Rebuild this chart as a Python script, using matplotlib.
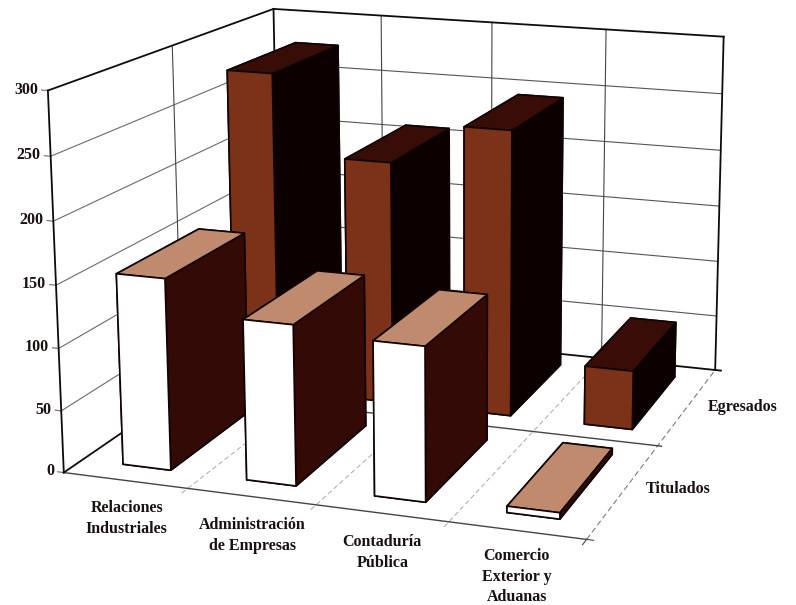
import matplotlib
matplotlib.use('Agg')
import matplotlib.pyplot as plt
from mpl_toolkits.mplot3d import proj3d
import numpy as np

plt.rcParams['font.family'] = ['Liberation Serif', 'DejaVu Serif']

categorias = ['Relaciones\nIndustriales', 'Administración\nde Empresas', 'Contaduría\nPública', 'Comercio\nExterior y\nAduanas']
series = ['Titulados', 'Egresados']
titulados = [154, 128, 122, 5]
egresados = [276, 208, 243, 50]
z_ticks = [0, 50, 100, 150, 200, 250, 300]

BAR_X = 0.33
BAR_W = 0.39
BAR_Y = 0.15
BAR_D = 0.70
NEGRO = '#120a08'
GRIS = '#6a6a6a'
TEXTO = '#1a1010'

# camara ajustada a las esquinas del marco
ELEV, AZIM, ROLL, FOCAL = 12.4929, -73.60162, -0.68085, 0.17104
CAJA = np.array([0.48769, 0.4661, 0.34839])
CENTRO = (3.9168, 0.07303, 293.15467)
PX, PY = 553.04437, 168.15972
S = 2400.0

fig = plt.figure(figsize=(7.96, 6.05), dpi=100)
ax = fig.add_axes([(PX - S / 2) / 796, (605 - PY - S / 2) / 605, S / 796, S / 605],
                  projection='3d', computed_zorder=False)
ax.set_xlim(CENTRO[0] - 4, CENTRO[0] + 4, view_margin=0)
ax.set_ylim(CENTRO[1] - 2, CENTRO[1] + 2, view_margin=0)
ax.set_zlim(CENTRO[2] - 300, CENTRO[2] + 300, view_margin=0)
ax.set_box_aspect(CAJA, zoom=np.linalg.norm(CAJA))
ax.view_init(elev=ELEV, azim=AZIM, roll=ROLL)
ax.set_proj_type('persp', focal_length=FOCAL)
ax.set_axis_off()


def linea(xs, ys, zs, color=NEGRO, lw=1.0, ls='-'):
    ax.plot(xs, ys, zs, color=color, lw=lw, ls=ls, zorder=1)


def rotulo(x, y, z, texto, size=11.5, ha='center', ls=1.38):
    xp, yp, _ = proj3d.proj_transform(x, y, z, ax.get_proj())
    ax.text2D(xp, yp, texto, transform=ax.transData, ha=ha, va='center', fontsize=size,
              fontweight='bold', color=TEXTO, linespacing=ls, zorder=20)


# paredes
for z in z_ticks[1:-1]:
    linea([0, 0], [0, 2], [z, z], GRIS, 0.8)
    linea([0, 4], [2, 2], [z, z], '#555555', 0.8)
for z in z_ticks:
    linea([-0.05, 0], [0, 0], [z, z], GRIS, 0.8)
for x in [1, 2, 3]:
    linea([x, x], [2, 2], [0, 300], '#444444', 0.8)
linea([0, 0], [1, 1], [0, 300], '#444444', 0.8)

# piso
for x in [1, 2, 3]:
    linea([x, x], [-0.05, 2], [0, 0], '#a8a8a8', 0.7, (0, (5, 3)))
linea([4, 4], [0, 2], [0, 0], '#7a7a7a', 0.8, (0, (5, 3)))
linea([0, 4.03], [1, 1], [0, 0], '#444444', 1.0)
linea([0, 4], [0, 0], [0, 0], '#444444', 1.0)
linea([4, 4], [-0.05, 0], [0, 0], '#444444', 0.8)
linea([4, 4.05], [0, 0], [0, 0], '#444444', 0.8)

# marco
linea([0, 0], [0, 0], [0, 300], NEGRO, 1.3)
linea([0, 0], [0, 2], [300, 300], NEGRO, 1.3)
linea([0, 4], [2, 2], [300, 300], NEGRO, 1.3)
linea([4, 4], [2, 2], [0, 300], NEGRO, 1.3)
linea([0, 0], [0, 2], [0, 0], NEGRO, 1.3)
linea([0, 4.05], [2, 2], [0, 0], NEGRO, 1.3)
linea([0, 0], [2, 2], [0, 300], NEGRO, 1.3)

# barras: primero la fila de atras
colores = {
    'Egresados': ['#3a0c06', '#380c07', '#7c3119', '#7c3119', '#0a0000', '#0c0100'],
    'Titulados': ['#3c0e08', '#bf8a6e', '#ffffff', '#ffffff', '#330a05', '#330a05'],
}
orden = 2
for fila, nombre, valores in [(1, 'Egresados', egresados), (0, 'Titulados', titulados)]:
    for i, v in enumerate(valores):
        ax.bar3d(i + BAR_X, fila + BAR_Y, 0, BAR_W, BAR_D, v,
                 color=colores[nombre], edgecolor='#100402', linewidth=1.2,
                 shade=False, zorder=orden)
        orden += 1

# textos
for z in z_ticks:
    rotulo(-0.08, 0, z, str(z), ha='right')
baja = [-31, -31, -31, -36]
for i, c in enumerate(categorias):
    rotulo(i + 0.5, 0, baja[i], c)
rotulo(4.4, 0.5, 6, series[0])
rotulo(4.45, 1.5, 4, series[1])

fig.savefig('out.png', dpi=100)
